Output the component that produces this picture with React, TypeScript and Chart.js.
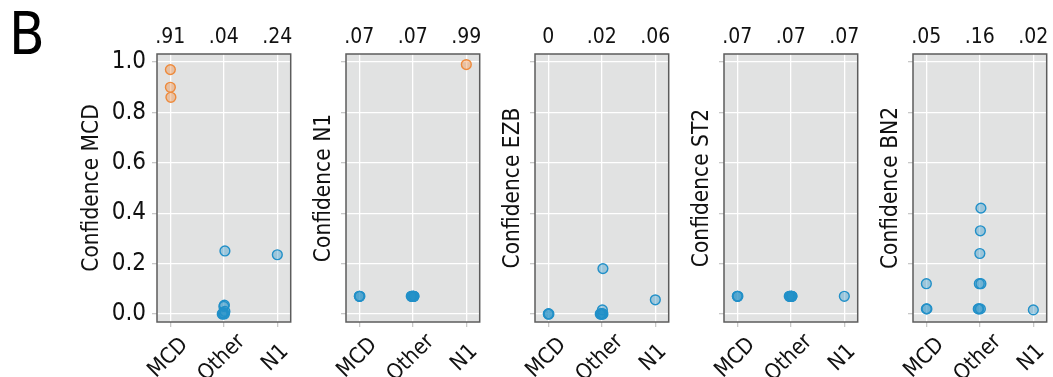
import React, { useEffect, useRef } from "react";
import { Chart, registerables } from "chart.js";

Chart.register(...registerables);

// ---- data ----
const categories = ["MCD", "Other", "N1"];
const yTickValues = [0, 0.2, 0.4, 0.6, 0.8, 1.0];
const panelTitles = ["Confidence MCD", "Confidence N1", "Confidence EZB", "Confidence ST2", "Confidence BN2"];
const highlightGroup = [0, 2, -1, -1, -1];

const topLabelsMCD = [".91", ".04", ".24"];
const topLabelsN1 = [".07", ".07", ".99"];
const topLabelsEZB = ["0", ".02", ".06"];
const topLabelsST2 = [".07", ".07", ".07"];
const topLabelsBN2 = [".05", ".16", ".02"];

// values per group (MCD, Other, N1) for each panel
const confMCD_MCD = [0.97, 0.9, 0.86];
const confMCD_Other = [0.25, 0.035, 0.03, 0.01, 0.005, 0.0, 0.0, 0.0];
const confMCD_N1 = [0.235];

const confN1_MCD = [0.07, 0.07, 0.07];
const confN1_Other = [0.07, 0.07, 0.07, 0.07, 0.07, 0.07, 0.07, 0.07];
const confN1_N1 = [0.99];

const confEZB_MCD = [0.0, 0.0, 0.0];
const confEZB_Other = [0.18, 0.016, 0.0, 0.0, 0.0, 0.0, 0.0, 0.0];
const confEZB_N1 = [0.056];

const confST2_MCD = [0.07, 0.07, 0.07];
const confST2_Other = [0.07, 0.07, 0.07, 0.07, 0.07, 0.07, 0.07, 0.07];
const confST2_N1 = [0.07];

const confBN2_MCD = [0.12, 0.02, 0.02];
const confBN2_Other = [0.42, 0.33, 0.24, 0.12, 0.12, 0.02, 0.02, 0.02];
const confBN2_N1 = [0.016];

// small horizontal jitter (in category units)
const jitterMCD = [0.0, 0.0, 0.01];
const jitterOther = [0.02, 0.01, 0.0, 0.02, -0.01, -0.03, -0.02, 0.01];
const jitterN1 = [0.0];

const panelGroups = [
  [confMCD_MCD, confMCD_Other, confMCD_N1],
  [confN1_MCD, confN1_Other, confN1_N1],
  [confEZB_MCD, confEZB_Other, confEZB_N1],
  [confST2_MCD, confST2_Other, confST2_N1],
  [confBN2_MCD, confBN2_Other, confBN2_N1],
];
const panelTopLabels = [topLabelsMCD, topLabelsN1, topLabelsEZB, topLabelsST2, topLabelsBN2];
const groupJitter = [jitterMCD, jitterOther, jitterN1];

// ---- styles ----
const FONT = "'Liberation Sans Narrow', 'Arial Narrow', 'DejaVu Sans Condensed', sans-serif";
const ORANGE = "#EE8A3C";
const ORANGE_FILL = "rgba(238,138,60,0.38)";
const BLUE = "#2290C8";
const BLUE_FILL = "rgba(34,144,200,0.36)";
const PANEL_BG = "#E1E2E2";

const PLOT_LEFTS = [157, 346, 535, 724, 913];
const PLOT_W = 137;
const PLOT_TOP = 54;
const PLOT_BOTTOM = 322;
const Y_AXIS_W = 100;
const H = 377;
const XLABEL_CENTER_DX = -2;
const XLABEL_CENTER_DY = 36;

const panelPlugin = {
  id: "panelBg",
  beforeDraw(chart: any) {
    const { ctx, chartArea: a } = chart;
    ctx.save();
    ctx.fillStyle = PANEL_BG;
    ctx.fillRect(a.left, a.top, a.right - a.left, a.bottom - a.top);
    ctx.restore();
    // centre the rotated category labels on a point below each tick
    const sx = chart.scales.x;
    const items = sx.getLabelItems();
    items.forEach((it: any, i: number) => {
      const cx = sx.getPixelForTick(i) + XLABEL_CENTER_DX;
      const cy = a.bottom + XLABEL_CENTER_DY;
      const r = it.options.rotation;
      const off = it.textOffset;
      it.options.textAlign = "center";
      it.options.translation = [cx + off * Math.sin(r), cy - off * Math.cos(r)];
    });
  },
  beforeDatasetsDraw(chart: any) {
    const { ctx, chartArea: a } = chart;
    ctx.save();
    ctx.strokeStyle = "#5c5c5c";
    ctx.lineWidth = 1.5;
    ctx.strokeRect(a.left, a.top, a.right - a.left, a.bottom - a.top);
    ctx.restore();
  },
};

function Panel({ index }: { index: number }) {
  const ref = useRef<HTMLCanvasElement>(null);
  useEffect(() => {
    const groups = panelGroups[index];
    const datasets = groups.map((vals, g) => {
      const hi = highlightGroup[index] === g;
      return {
        label: categories[g],
        data: vals.map((v, k) => ({ x: g + groupJitter[g][k], y: v })),
        borderColor: hi ? ORANGE : BLUE,
        backgroundColor: hi ? ORANGE_FILL : BLUE_FILL,
        pointRadius: 4.9,
        pointBorderWidth: 1.4,
      };
    });
    const first = index === 0;
    const chart = new Chart(ref.current!, {
      type: "scatter",
      data: { datasets },
      plugins: [panelPlugin],
      options: {
        animation: false,
        responsive: false,
        maintainAspectRatio: false,
        events: [],
        layout: { padding: { left: 0, right: 3, top: 0, bottom: 0 } },
        plugins: { legend: { display: false }, tooltip: { enabled: false } },
        scales: {
          x: {
            type: "linear",
            position: "bottom",
            min: -0.25,
            max: 2.25,
            afterBuildTicks: (s: any) => {
              s.ticks = categories.map((_, i) => ({ value: i }));
            },
            afterFit: (s: any) => {
              s.height = H - PLOT_BOTTOM;
              s.paddingLeft = 0;
              s.paddingRight = 0;
            },
            ticks: {
              autoSkip: false,
              minRotation: 45,
              maxRotation: 45,
              padding: 0,
              color: "#111",
              font: { family: FONT, size: 22 },
              callback: (_v: any, i: number) => categories[i],
            },
            grid: { color: "#ffffff", lineWidth: 1.3, tickLength: 5, tickColor: "#c8c8c8" },
            border: { display: false },
          },
          xTop: {
            type: "linear",
            position: "top",
            min: -0.25,
            max: 2.25,
            afterBuildTicks: (s: any) => {
              s.ticks = categories.map((_, i) => ({ value: i }));
            },
            afterFit: (s: any) => {
              s.height = PLOT_TOP;
              s.paddingLeft = 0;
              s.paddingRight = 0;
            },
            ticks: {
              autoSkip: false,
              maxRotation: 0,
              minRotation: 0,
              padding: 4,
              color: "#111",
              font: { family: FONT, size: 21 },
              callback: (_v: any, i: number) => panelTopLabels[index][i],
            },
            grid: { display: false, drawTicks: false },
            border: { display: false },
          },
          y: {
            type: "linear",
            min: -0.032,
            max: 1.032,
            afterBuildTicks: (s: any) => {
              s.ticks = yTickValues.map((v) => ({ value: v }));
            },
            afterFit: (s: any) => {
              s.width = Y_AXIS_W;
              s.paddingTop = 0;
              s.paddingBottom = 0;
            },
            ticks: {
              padding: 6,
              color: "#111",
              font: { family: FONT, size: 24 },
              callback: (v: any) => (first ? Number(v).toFixed(1) : ""),
            },
            grid: { color: "#ffffff", lineWidth: 1.3, tickLength: 5, tickColor: "#c8c8c8" },
            border: { display: false },
            title: {
              display: true,
              text: panelTitles[index],
              color: "#111",
              font: { family: FONT, size: 22.5 },
              padding: { top: first ? 22 : 65, bottom: 0 },
            },
          },
        },
      } as any,
    });
    return () => chart.destroy();
  }, [index]);
  const left = PLOT_LEFTS[index] - Y_AXIS_W;
  const width = Y_AXIS_W + PLOT_W + 3;
  return (
    <canvas
      ref={ref}
      width={width}
      height={H}
      style={{ position: "absolute", left, top: 0, width, height: H }}
    />
  );
}

export default function App() {
  return (
    <div style={{ position: "absolute", left: 0, top: 0, width: 1053, height: H, background: "#fff", overflow: "hidden" }}>
      <div
        style={{
          position: "absolute",
          left: 9,
          top: -1,
          fontFamily: FONT,
          fontSize: 58,
          lineHeight: "70px",
          color: "#000",
        }}
      >
        B
      </div>
      {panelTitles.map((_, i) => (
        <Panel key={i} index={i} />
      ))}
    </div>
  );
}
